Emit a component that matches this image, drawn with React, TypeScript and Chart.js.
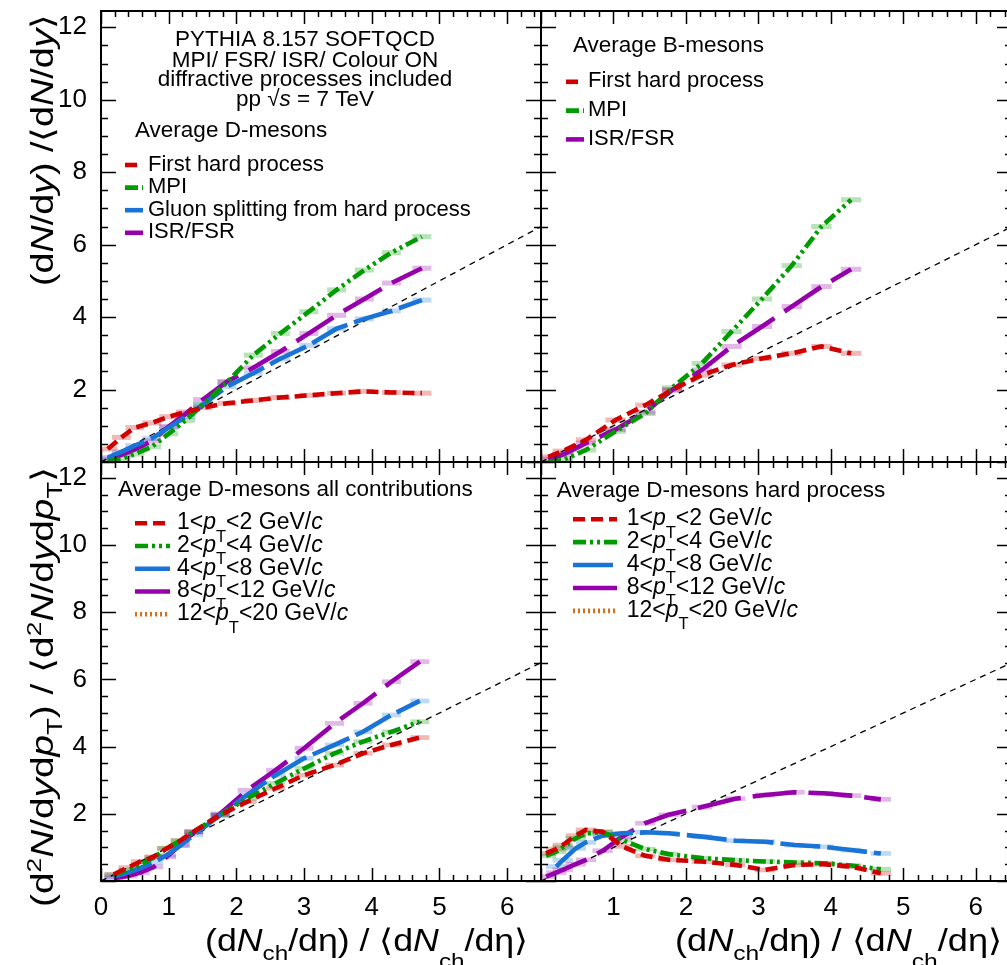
import React, { useEffect, useRef } from "react";
import { Chart, registerables } from "chart.js";
Chart.register(...registerables);

const FONT = "'Liberation Sans', Arial, Helvetica, sans-serif";

// ---------------- data ----------------
// reference line y = x
const diagX = [0, 6.5];
const diagY = [0, 6.5];

// Top-left: average D-mesons, by production process
const dX = [0.1, 0.3, 0.5, 0.75, 1.0, 1.25, 1.5, 1.86, 2.25, 2.65, 3.07, 3.48, 3.89, 4.29, 4.74];
const dFirstHard = [0.36, 0.68, 0.95, 1.08, 1.25, 1.38, 1.5, 1.62, 1.7, 1.78, 1.84, 1.9, 1.95, 1.92, 1.9];
const dMPI = [0.02, 0.08, 0.22, 0.42, 0.78, 1.15, 1.58, 2.2, 2.95, 3.55, 4.15, 4.75, 5.3, 5.78, 6.22];
const dGluon = [0.12, 0.28, 0.45, 0.65, 0.95, 1.25, 1.58, 2.08, 2.45, 2.85, 3.22, 3.68, 3.95, 4.17, 4.47];
const dISR = [0.08, 0.2, 0.35, 0.58, 0.98, 1.33, 1.72, 2.22, 2.6, 3.05, 3.55, 4.05, 4.5, 4.94, 5.35];

// Top-right: average B-mesons, by production process
const bX = [0.1, 0.3, 0.62, 1.03, 1.44, 1.81, 2.22, 2.63, 3.05, 3.46, 3.87, 4.28];
const bFirstHard = [0.14, 0.3, 0.61, 1.16, 1.57, 1.99, 2.4, 2.68, 2.86, 3.0, 3.19, 3.0];
const bMPI = [0.0, 0.05, 0.33, 0.85, 1.34, 2.05, 2.72, 3.6, 4.5, 5.42, 6.5, 7.24];
const bISR = [0.08, 0.2, 0.52, 0.9, 1.38, 1.99, 2.54, 3.19, 3.74, 4.29, 4.84, 5.32];

// Bottom-left: average D-mesons, all contributions, pT bins
const aX = [0.19, 0.4, 0.58, 0.78, 0.97, 1.17, 1.37, 1.76, 2.16, 2.58, 3.0, 3.45, 3.87, 4.29, 4.71];
const allPt1to2 = [0.2, 0.4, 0.58, 0.72, 0.97, 1.2, 1.47, 1.96, 2.36, 2.76, 3.15, 3.45, 3.8, 4.05, 4.27];
const allPt2to4 = [0.18, 0.33, 0.48, 0.7, 0.97, 1.2, 1.47, 1.96, 2.46, 2.91, 3.35, 3.8, 4.15, 4.44, 4.74];
const allPt4to8 = [0.13, 0.25, 0.38, 0.55, 0.77, 1.05, 1.37, 1.96, 2.56, 3.15, 3.65, 4.05, 4.44, 4.94, 5.36];
const allPt8to12 = [0.08, 0.15, 0.25, 0.42, 0.72, 1.07, 1.45, 2.0, 2.7, 3.3, 3.95, 4.69, 5.29, 5.93, 6.53];
const allPt12to20: (number | null)[] = [];

// Bottom-right: average D-mesons, hard process, pT bins
const hX = [0.07, 0.21, 0.3, 0.48, 0.62, 0.85, 1.12, 1.44, 1.76, 2.22, 2.68, 3.09, 3.5, 3.9, 4.28, 4.69];
const hardPt1to2 = [0.82, 0.95, 1.07, 1.35, 1.52, 1.47, 1.03, 0.75, 0.63, 0.58, 0.48, 0.33, 0.48, 0.5, 0.43, 0.23];
const hardPt2to4 = [0.75, 0.87, 1.0, 1.27, 1.42, 1.45, 1.22, 0.95, 0.8, 0.68, 0.62, 0.58, 0.55, 0.53, 0.46, 0.35];
const hardPt4to8 = [null, 0.43, 0.62, 0.97, 1.15, 1.35, 1.42, 1.45, 1.42, 1.32, 1.2, 1.17, 1.07, 1.02, 0.92, 0.82];
const hardPt8to12 = [0.13, 0.25, 0.33, 0.5, 0.63, 0.9, 1.32, 1.72, 1.97, 2.2, 2.45, 2.56, 2.64, 2.61, 2.54, 2.43];
const hardPt12to20: (number | null)[] = [];

// pT bin edges (GeV/c) used in legend labels
const ptEdges = ["1", "2", "4", "8", "12", "20"];

// ---------------- styles ----------------
const RED = "rgb(208,0,0)";
const GREEN = "rgb(0,155,0)";
const BLUE = "rgb(26,116,216)";
const PURPLE = "rgb(150,0,170)";
const ORANGE = "rgb(215,110,30)";

const DASH_RED = [12, 6];
const DASH_GREEN = [13, 4, 3, 4, 3, 4];
const DASH_BLUE = [40, 7];
const DASH_PURPLE = [44, 12];
const DASH_ORANGE = [2, 3];

// ---------------- rich text ----------------
type Seg = { t: string; i?: boolean; dy?: number; k?: number };
const T = (t: string): Seg => ({ t });
const I = (t: string): Seg => ({ t, i: true });
const SUB = (t: string, dy = 0.3, k = 0.7): Seg => ({ t, dy, k });
const SUP = (t: string): Seg => ({ t, dy: -0.4, k: 0.68 });

function segFont(s: Seg, size: number) {
  return `${s.i ? "italic " : ""}${size * (s.k || 1)}px ${FONT}`;
}
function measureRich(ctx: CanvasRenderingContext2D, segs: Seg[], size: number) {
  let w = 0;
  for (const s of segs) {
    ctx.font = segFont(s, size);
    w += ctx.measureText(s.t).width;
  }
  return w;
}
function drawRich(
  ctx: CanvasRenderingContext2D,
  segs: Seg[],
  x: number,
  y: number,
  size: number,
  opt: { align?: "left" | "center"; rotate?: boolean; width?: number; color?: string } = {}
) {
  ctx.save();
  ctx.translate(x, y);
  if (opt.rotate) ctx.rotate(-Math.PI / 2);
  const nat = measureRich(ctx, segs, size);
  const sx = opt.width ? opt.width / nat : 1;
  ctx.scale(sx, 1);
  let cx = opt.align === "center" ? -nat / 2 : 0;
  ctx.textAlign = "left";
  ctx.textBaseline = "alphabetic";
  ctx.fillStyle = opt.color || "#000";
  for (const s of segs) {
    ctx.font = segFont(s, size);
    ctx.fillText(s.t, cx, (s.dy || 0) * size);
    cx += ctx.measureText(s.t).width;
  }
  ctx.restore();
}

const ptLabel = (lo: string, hi: string): Seg[] => [
  T(`${lo}<`),
  I("p"),
  SUB("T", 0.55, 0.72),
  T(`<${hi} GeV/`),
  I("c"),
];

// ---------------- panel machinery ----------------
interface SeriesDef {
  label: string;
  x: number[];
  y: (number | null)[];
  color: string;
  dash: number[];
}
interface LegendRow {
  segs: Seg[];
  color: string;
  dash: number[];
}
interface PanelDef {
  left: number;
  top: number;
  width: number;
  height: number;
  padding: { left: number; right: number; top: number; bottom: number };
  ymax: number;
  showX: boolean;
  showY: boolean;
  hideX0: boolean;
  series: SeriesDef[];
  legend: { rows: LegendRow[]; sx0: number; sx1: number; tx: number; y0: number; dy: number; size: number };
  texts: (ctx: CanvasRenderingContext2D, ox: number, oy: number) => void;
}

function makeConfig(p: PanelDef): any {
  const datasets: any[] = [
    {
      label: "y = x",
      data: diagX.map((x, i) => ({ x, y: diagY[i] })),
      borderColor: "#000",
      borderWidth: 1.3,
      borderDash: [6, 5],
      pointRadius: 0,
      fill: false,
      tension: 0,
      order: 10,
    },
    ...p.series.map((s, k) => ({
      label: s.label,
      data: s.x
        .map((x, i) => ({ x, y: s.y[i] }))
        .filter((d) => d.y !== null && d.y !== undefined),
      borderColor: s.color,
      backgroundColor: s.color,
      borderWidth: 4.6,
      borderDash: s.dash,
      borderCapStyle: "butt",
      pointRadius: 0,
      fill: false,
      tension: 0,
      order: k,
    })),
  ];

  const plugin = {
    id: "frameAndText",
    beforeDatasetsDraw(chart: any) {
      const { ctx, chartArea: a, scales } = chart;
      const xs = scales.x;
      const ys = scales.y;
      ctx.save();
      ctx.beginPath();
      ctx.rect(a.left, a.top, a.right - a.left, a.bottom - a.top);
      ctx.clip();
      p.series.forEach((s) => {
        ctx.fillStyle = s.color;
        ctx.globalAlpha = 0.28;
        s.x.forEach((x, i) => {
          const y = s.y[i];
          if (y === null || y === undefined) return;
          const l = xs.getPixelForValue(x - 0.14);
          const r = xs.getPixelForValue(x + 0.14);
          const t = ys.getPixelForValue(y + 0.07);
          const b = ys.getPixelForValue(y - 0.07);
          ctx.fillRect(l, t, r - l, b - t);
        });
      });
      ctx.restore();
    },
    afterDraw(chart: any) {
      const { ctx, chartArea: a, scales } = chart;
      const xs = scales.x;
      const ys = scales.y;
      ctx.save();
      ctx.strokeStyle = "#000";
      ctx.lineWidth = 1.5;
      ctx.setLineDash([]);
      ctx.beginPath();
      for (let k = 0; k * 0.2 <= 6.5 + 1e-9; k++) {
        const px = Math.round(xs.getPixelForValue(k * 0.2)) + 0.5;
        const len = k % 5 === 0 ? 13 : 6;
        ctx.moveTo(px, a.bottom);
        ctx.lineTo(px, a.bottom - len);
        ctx.moveTo(px, a.top);
        ctx.lineTo(px, a.top + len);
      }
      for (let k = 0; k * 0.5 <= p.ymax + 1e-9; k++) {
        const py = Math.round(ys.getPixelForValue(k * 0.5)) + 0.5;
        const len = k % 4 === 0 ? 15 : 7;
        ctx.moveTo(a.left, py);
        ctx.lineTo(a.left + len, py);
        ctx.moveTo(a.right, py);
        ctx.lineTo(a.right - len, py);
      }
      ctx.stroke();
      ctx.lineWidth = 2;
      ctx.strokeRect(a.left, a.top, a.right - a.left, a.bottom - a.top);

      // legend
      const L = p.legend;
      const ox = p.left;
      const oy = p.top;
      L.rows.forEach((r, i) => {
        const base = L.y0 + i * L.dy - oy;
        const cy = base - L.size * 0.25;
        ctx.save();
        ctx.strokeStyle = r.color;
        ctx.lineWidth = 4.6;
        ctx.setLineDash(r.dash);
        ctx.beginPath();
        ctx.moveTo(L.sx0 - ox, cy);
        ctx.lineTo(L.sx1 - ox, cy);
        ctx.stroke();
        ctx.restore();
        drawRich(ctx, r.segs, L.tx - ox, base, L.size);
      });
      p.texts(ctx, ox, oy);
      ctx.restore();
    },
  };

  const tickFont = { family: FONT, size: 26 };
  return {
    type: "line",
    data: { datasets },
    options: {
      responsive: false,
      animation: false,
      devicePixelRatio: 1,
      events: [],
      layout: { padding: p.padding },
      plugins: { legend: { display: false }, tooltip: { enabled: false }, title: { display: false } },
      scales: {
        x: {
          type: "linear",
          position: "bottom",
          min: 0,
          max: 6.5,
          display: p.showX,
          grid: { display: false },
          border: { display: false },
          ticks: {
            stepSize: 1,
            autoSkip: false,
            maxRotation: 0,
            includeBounds: false,
            padding: 3,
            color: "#000",
            font: tickFont,
            callback: (v: number) => (p.hideX0 && v === 0 ? "" : String(v)),
          },
          afterFit: (s: any) => {
            s.paddingLeft = 0;
            s.paddingRight = 0;
            s.paddingTop = 0;
            s.paddingBottom = 0;
            if (p.showX) s.height = 40;
          },
        },
        y: {
          type: "linear",
          position: "left",
          min: 0,
          max: p.ymax,
          display: p.showY,
          grid: { display: false },
          border: { display: false },
          ticks: {
            stepSize: 2,
            autoSkip: false,
            includeBounds: false,
            padding: 6,
            color: "#000",
            font: tickFont,
            callback: (v: number) => (v === 0 ? "" : String(v)),
          },
          afterFit: (s: any) => {
            s.paddingLeft = 0;
            s.paddingRight = 0;
            s.paddingTop = 0;
            s.paddingBottom = 0;
            if (p.showY) s.width = 101;
          },
        },
      },
    },
    plugins: [plugin],
  };
}

function Panel({ def }: { def: PanelDef }) {
  const ref = useRef<HTMLCanvasElement>(null);
  useEffect(() => {
    const chart = new Chart(ref.current as HTMLCanvasElement, makeConfig(def));
    return () => chart.destroy();
  }, []);
  return (
    <canvas
      ref={ref}
      width={def.width}
      height={def.height}
      style={{ position: "absolute", left: def.left, top: def.top, width: def.width, height: def.height }}
    />
  );
}

// ---------------- panel definitions ----------------
const TEXT = 22.5;

const yTitleTop: Seg[] = [T("(d"), I("N"), T("/d"), I("y"), T(") /\u27E8d"), I("N"), T("/d"), I("y"), T("\u27E9")];
const yTitleBottom: Seg[] = [
  T("(d"), SUP("2"), I("N"), T("/d"), I("y"), T("d"), I("p"), SUB("T", 0.3, 0.7),
  T(") / \u27E8d"), SUP("2"), I("N"), T("/d"), I("y"), T("d"), I("p"), SUB("T", 0.3, 0.7), T("\u27E9"),
];
const xTitle: Seg[] = [
  T("(d"), I("N"), SUB("ch", 0.28, 0.68), T("/d\u03B7) / \u27E8d"), I("N"), SUB("ch", 0.55, 0.68), T("/d\u03B7\u27E9"),
];

const ptRows = (colors: string[], dashes: number[][]): LegendRow[] =>
  colors.map((c, i) => ({ segs: ptLabel(ptEdges[i], ptEdges[i + 1]), color: c, dash: dashes[i] }));

const PT_COLORS = [RED, GREEN, BLUE, PURPLE, ORANGE];
const PT_DASHES = [DASH_RED, DASH_GREEN, DASH_BLUE, DASH_PURPLE, DASH_ORANGE];
const PT_LABELS = ptEdges.slice(0, 5).map((lo, i) => `${lo}<pT<${ptEdges[i + 1]} GeV/c`);

const TL: PanelDef = {
  left: 0,
  top: 0,
  width: 546,
  height: 466,
  padding: { left: 0, right: 5, top: 11, bottom: 4 },
  ymax: 12.45,
  showX: false,
  showY: true,
  hideX0: false,
  series: [
    { label: "First hard process", x: dX, y: dFirstHard, color: RED, dash: DASH_RED },
    { label: "MPI", x: dX, y: dMPI, color: GREEN, dash: DASH_GREEN },
    { label: "Gluon splitting from hard process", x: dX, y: dGluon, color: BLUE, dash: DASH_BLUE },
    { label: "ISR/FSR", x: dX, y: dISR, color: PURPLE, dash: DASH_PURPLE },
  ],
  legend: {
    rows: [
      { segs: [T("First hard process")], color: RED, dash: DASH_RED },
      { segs: [T("MPI")], color: GREEN, dash: DASH_GREEN },
      { segs: [T("Gluon splitting from hard process")], color: BLUE, dash: DASH_BLUE },
      { segs: [T("ISR/FSR")], color: PURPLE, dash: DASH_PURPLE },
    ],
    sx0: 125,
    sx1: 143,
    tx: 148,
    y0: 170.5,
    dy: 22.6,
    size: 22,
  },
  texts: (ctx, ox, oy) => {
    drawRich(ctx, [T("PYTHIA 8.157 SOFTQCD")], 305 - ox, 45.5 - oy, TEXT, { align: "center" });
    drawRich(ctx, [T("MPI/ FSR/ ISR/ Colour ON")], 305 - ox, 66.5 - oy, TEXT, { align: "center" });
    drawRich(ctx, [T("diffractive processes included")], 305 - ox, 86 - oy, TEXT, { align: "center" });
    drawRich(ctx, [T("pp \u221A"), I("s"), T(" = 7 TeV")], 305 - ox, 106 - oy, TEXT, { align: "center" });
    drawRich(ctx, [T("Average D-mesons")], 135 - ox, 136.5 - oy, TEXT);
    drawRich(ctx, yTitleTop, 53 - ox, 150 - oy, 31, { align: "center", rotate: true, width: 272 });
  },
};

const TR: PanelDef = {
  left: 536,
  top: 0,
  width: 480,
  height: 466,
  padding: { left: 5, right: 4, top: 11, bottom: 4 },
  ymax: 12.45,
  showX: false,
  showY: false,
  hideX0: true,
  series: [
    { label: "First hard process", x: bX, y: bFirstHard, color: RED, dash: DASH_RED },
    { label: "MPI", x: bX, y: bMPI, color: GREEN, dash: DASH_GREEN },
    { label: "ISR/FSR", x: bX, y: bISR, color: PURPLE, dash: DASH_PURPLE },
  ],
  legend: {
    rows: [
      { segs: [T("First hard process")], color: RED, dash: DASH_RED },
      { segs: [T("MPI")], color: GREEN, dash: DASH_GREEN },
      { segs: [T("ISR/FSR")], color: PURPLE, dash: DASH_PURPLE },
    ],
    sx0: 566,
    sx1: 584,
    tx: 588,
    y0: 87.3,
    dy: 28.8,
    size: 22,
  },
  texts: (ctx, ox, oy) => {
    drawRich(ctx, [T("Average B-mesons")], 573 - ox, 51.7 - oy, TEXT);
  },
};

const BL: PanelDef = {
  left: 0,
  top: 458,
  width: 546,
  height: 507,
  padding: { left: 0, right: 5, top: 4, bottom: 44 },
  ymax: 12.47,
  showX: true,
  showY: true,
  hideX0: false,
  series: [
    { label: PT_LABELS[0], x: aX, y: allPt1to2, color: RED, dash: DASH_RED },
    { label: PT_LABELS[1], x: aX, y: allPt2to4, color: GREEN, dash: DASH_GREEN },
    { label: PT_LABELS[2], x: aX, y: allPt4to8, color: BLUE, dash: DASH_BLUE },
    { label: PT_LABELS[3], x: aX, y: allPt8to12, color: PURPLE, dash: DASH_PURPLE },
    { label: PT_LABELS[4], x: aX, y: allPt12to20, color: ORANGE, dash: DASH_ORANGE },
  ],
  legend: { rows: ptRows(PT_COLORS, PT_DASHES), sx0: 135, sx1: 170, tx: 177, y0: 529, dy: 22.75, size: 23 },
  texts: (ctx, ox, oy) => {
    drawRich(ctx, [T("Average D-mesons all contributions")], 118 - ox, 495.7 - oy, TEXT);
    drawRich(ctx, yTitleBottom, 53 - ox, 687 - oy, 31, { align: "center", rotate: true, width: 440 });
    drawRich(ctx, xTitle, 366.5 - ox, 951 - oy, 31, { align: "center", width: 323 });
  },
};

const BR: PanelDef = {
  left: 536,
  top: 458,
  width: 480,
  height: 507,
  padding: { left: 5, right: 4, top: 4, bottom: 44 },
  ymax: 12.47,
  showX: true,
  showY: false,
  hideX0: true,
  series: [
    { label: PT_LABELS[0], x: hX, y: hardPt1to2, color: RED, dash: DASH_RED },
    { label: PT_LABELS[1], x: hX, y: hardPt2to4, color: GREEN, dash: DASH_GREEN },
    { label: PT_LABELS[2], x: hX, y: hardPt4to8, color: BLUE, dash: DASH_BLUE },
    { label: PT_LABELS[3], x: hX, y: hardPt8to12, color: PURPLE, dash: DASH_PURPLE },
    { label: PT_LABELS[4], x: hX, y: hardPt12to20, color: ORANGE, dash: DASH_ORANGE },
  ],
  legend: { rows: ptRows(PT_COLORS, PT_DASHES), sx0: 573, sx1: 617, tx: 626.7, y0: 525, dy: 22.9, size: 23 },
  texts: (ctx, ox, oy) => {
    drawRich(ctx, [T("Average D-mesons hard process")], 556.7 - ox, 496.7 - oy, TEXT);
    drawRich(ctx, xTitle, 838.5 - ox, 951 - oy, 31, { align: "center", width: 327 });
  },
};

export default function App() {
  return (
    <div
      style={{
        position: "absolute",
        left: 0,
        top: 0,
        width: 1007,
        height: 965,
        overflow: "hidden",
        background: "#fff",
      }}
    >
      <Panel def={TL} />
      <Panel def={TR} />
      <Panel def={BL} />
      <Panel def={BR} />
    </div>
  );
}
